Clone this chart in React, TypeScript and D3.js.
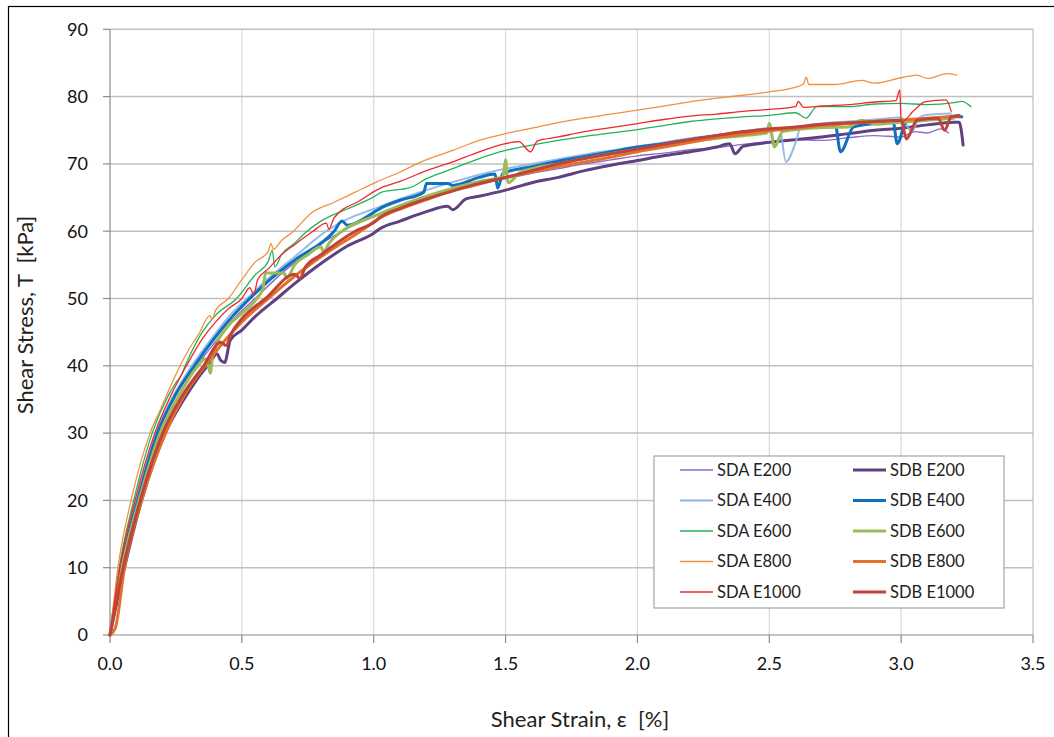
import React from "react";
import * as d3 from "d3";

type P = [number, number];

const xTicks = [0, 0.5, 1.0, 1.5, 2.0, 2.5, 3.0, 3.5];
const yTicks = [0, 10, 20, 30, 40, 50, 60, 70, 80, 90];

const sdaE200: P[] = [[0,0],[0.045,10],[0.11,20],[0.19,30],[0.26,35.5],[0.33,40],[0.4,43.6],[0.47,47],[0.55,50],[0.65,53.7],[0.75,56.8],[0.88,60],[1.0,62.2],[1.1,63.7],[1.2,65],[1.3,66.1],[1.4,67],[1.5,67.8],[1.6,68.6],[1.7,69.3],[1.8,70],[1.9,70.6],[2.0,71.2],[2.1,71.6],[2.2,72.1],[2.3,72.4],[2.4,72.9],[2.5,73.3],[2.6,73.6],[2.7,73.5],[2.8,73.9],[2.9,74.2],[3.0,74],[3.05,74.8],[3.1,74.6],[3.15,75.2],[3.18,74.6]];
const sdbE200: P[] = [[0,0],[0.055,10],[0.12,20],[0.21,30],[0.28,35],[0.33,38],[0.38,40.5],[0.405,41.8],[0.42,40.8],[0.435,40.5],[0.456,43.8],[0.5,45.3],[0.55,47.3],[0.633,50],[0.7,52.2],[0.8,55.2],[0.9,57.8],[1.0,59.7],[1.025,60.4],[1.1,61.5],[1.2,62.9],[1.28,63.7],[1.3,63.2],[1.35,64.8],[1.4,65.2],[1.5,66.1],[1.6,67.2],[1.7,68],[1.8,69],[1.9,69.8],[2.0,70.5],[2.1,71.2],[2.2,71.8],[2.3,72.5],[2.35,73],[2.37,71.5],[2.4,72.6],[2.5,73.2],[2.6,73.6],[2.7,74],[2.8,74.5],[2.9,75],[3.0,75.3],[3.1,75.8],[3.2,76.2],[3.22,76.2],[3.235,72.8]];
const sdaE400: P[] = [[0,0],[0.04,10],[0.1,20],[0.175,30],[0.24,35.5],[0.31,40],[0.4,44.8],[0.45,47.3],[0.52,50],[0.6,53],[0.7,56.2],[0.82,60],[0.9,61.8],[1.0,63.3],[1.1,64.8],[1.2,66.1],[1.3,67.3],[1.4,68.4],[1.5,69.3],[1.6,70],[1.7,70.7],[1.8,71.4],[1.9,72],[2.0,72.6],[2.1,73.2],[2.2,73.8],[2.3,74.3],[2.4,74.8],[2.5,75.3],[2.54,75.2],[2.563,70.3],[2.6,73.2],[2.62,75.5],[2.7,76],[2.8,76.3],[2.9,76.6],[3.0,76.9],[3.04,74.8],[3.07,76.9],[3.1,77.3],[3.19,77.5]];
const sdbE400: P[] = [[0,0],[0.042,10],[0.105,20],[0.18,30],[0.25,35.8],[0.32,40],[0.4,44.3],[0.45,46.7],[0.53,50],[0.6,52.6],[0.7,55.7],[0.85,60],[0.88,61.5],[0.9,60.9],[1.0,62.8],[1.025,63.4],[1.1,64.6],[1.19,65.8],[1.2,67.1],[1.28,67.1],[1.3,66.8],[1.4,68],[1.46,68.5],[1.47,66.4],[1.49,68.6],[1.6,69.6],[1.7,70.4],[1.8,71.1],[1.9,71.8],[2.0,72.5],[2.1,73],[2.2,73.6],[2.3,74.2],[2.4,74.6],[2.5,75],[2.6,75.4],[2.7,75.6],[2.75,75.8],[2.77,71.8],[2.82,75.5],[2.9,76],[2.97,76.2],[2.985,73],[3.02,76.3],[3.1,76.6],[3.2,77],[3.23,77]];
const sdaE600: P[] = [[0,0],[0.035,10],[0.09,20],[0.16,30],[0.22,35.5],[0.25,37.5],[0.27,38.6],[0.285,40],[0.35,45],[0.4,47.5],[0.48,50],[0.55,53.5],[0.6,55.5],[0.615,57.2],[0.625,54.7],[0.65,56.5],[0.7,58.2],[0.747,60],[0.8,61.5],[0.9,63.3],[1.0,65.1],[1.03,65.8],[1.14,66.5],[1.2,67.8],[1.3,69.3],[1.4,70.8],[1.5,72],[1.6,72.8],[1.7,73.5],[1.8,74.1],[1.9,74.6],[2.0,75.1],[2.1,75.7],[2.2,76.3],[2.3,76.7],[2.4,77],[2.5,77.2],[2.6,77.6],[2.64,76.8],[2.68,78.5],[2.8,78.5],[2.9,78.9],[3.0,79],[3.1,78.8],[3.2,79.1],[3.23,79.3],[3.265,78.5]];
const sdbE600: P[] = [[0,0],[0.045,10],[0.11,20],[0.19,30],[0.26,35.5],[0.33,39.8],[0.36,41],[0.37,40.5],[0.38,38.9],[0.39,41.6],[0.45,46],[0.5,47.8],[0.557,50],[0.58,51.5],[0.59,53.8],[0.66,53.8],[0.67,53],[0.7,55],[0.75,56.5],[0.8,57.7],[0.81,56.9],[0.83,58.2],[0.88,60],[1.0,62.2],[1.1,63.8],[1.2,65.2],[1.3,66.4],[1.4,67.4],[1.49,68.1],[1.5,70.6],[1.51,67.2],[1.55,68.6],[1.6,69.3],[1.7,70],[1.8,70.8],[1.9,71.5],[2.0,72.1],[2.1,72.7],[2.2,73.3],[2.3,73.8],[2.4,74.2],[2.49,74.6],[2.5,76],[2.52,72.5],[2.55,74.8],[2.7,75.4],[2.8,75.5],[2.85,76.5],[2.9,75.9],[3.0,76.2],[3.1,76.5],[3.2,76.8]];
const sdaE800: P[] = [[0,0],[0.03,10],[0.08,20],[0.152,30],[0.19,33.4],[0.23,37],[0.266,40],[0.3,42.5],[0.335,44.6],[0.38,47.5],[0.385,46.8],[0.4,48.2],[0.449,50],[0.5,52.8],[0.55,55.4],[0.6,57],[0.61,58.2],[0.62,57.3],[0.65,58.6],[0.696,60],[0.76,62.6],[0.85,64.3],[0.93,65.8],[1.01,67.3],[1.1,68.8],[1.18,70.3],[1.3,72],[1.4,73.5],[1.5,74.5],[1.6,75.3],[1.75,76.5],[1.9,77.4],[2.0,78],[2.1,78.6],[2.25,79.5],[2.4,80.2],[2.5,80.7],[2.6,81.4],[2.63,81.9],[2.64,82.9],[2.65,81.8],[2.75,81.8],[2.85,82.4],[2.9,82],[3.0,82.8],[3.06,83.2],[3.1,82.7],[3.176,83.4],[3.21,83.2]];
const sdbE800: P[] = [[0,0],[0.02,1],[0.055,10],[0.12,20],[0.21,30],[0.28,35.5],[0.36,40],[0.43,43.5],[0.5,46.5],[0.6,50],[0.7,53.3],[0.8,56.2],[0.95,60],[1.025,62],[1.1,63.3],[1.2,64.7],[1.3,66],[1.4,67],[1.5,68],[1.6,68.8],[1.7,69.6],[1.8,70.3],[1.9,71],[2.0,71.8],[2.1,72.5],[2.2,73.2],[2.3,73.9],[2.4,74.4],[2.5,74.9],[2.6,75.3],[2.7,75.7],[2.8,76],[2.9,76.3],[3.0,76.5],[3.1,76.8],[3.22,77.1]];
const sdaE1000: P[] = [[0,0],[0.037,10],[0.095,20],[0.17,30],[0.23,35.5],[0.29,40],[0.35,44],[0.4,46.5],[0.45,48.5],[0.5,50],[0.53,51.6],[0.545,50.6],[0.56,52.8],[0.6,54.4],[0.65,56.5],[0.7,58],[0.77,60],[0.82,61.2],[0.83,60.3],[0.85,62],[0.95,64.6],[1.025,66.4],[1.1,67.4],[1.2,69],[1.3,70.3],[1.4,71.8],[1.5,73],[1.55,73.3],[1.595,71.8],[1.62,73.4],[1.7,74],[1.8,74.8],[1.9,75.4],[2.0,76],[2.1,76.6],[2.2,77.1],[2.3,77.4],[2.4,77.8],[2.5,78.1],[2.6,78.5],[2.61,79.3],[2.63,78.4],[2.7,78.6],[2.8,78.8],[2.9,79.2],[2.98,79.4],[2.995,81],[3.0,76.2],[3.05,78],[3.09,79.2],[3.17,79.5],[3.19,77.8]];
const sdbE1000: P[] = [[0,0],[0.05,10],[0.115,20],[0.2,30],[0.27,35.3],[0.355,40],[0.42,43.5],[0.44,43],[0.46,44.8],[0.5,47],[0.59,50],[0.7,53.6],[0.72,53],[0.74,54.6],[0.8,56.5],[0.93,60],[1.0,61.3],[1.025,62.1],[1.1,63.4],[1.2,64.8],[1.3,66],[1.4,67.1],[1.5,68],[1.6,69],[1.7,70],[1.8,70.8],[1.9,71.5],[2.0,72.2],[2.1,72.9],[2.2,73.6],[2.3,74.2],[2.4,74.8],[2.5,75.2],[2.6,75.5],[2.7,75.9],[2.8,76.1],[2.9,76.3],[3.0,76.5],[3.02,73.7],[3.06,76.5],[3.14,76.8],[3.165,75],[3.19,77],[3.22,77.2]];

const seriesNames = ["SDA E200","SDB E200","SDA E400","SDB E400","SDA E600","SDB E600","SDA E800","SDB E800","SDA E1000","SDB E1000"];
const seriesData = [sdaE200, sdbE200, sdaE400, sdbE400, sdaE600, sdbE600, sdaE800, sdbE800, sdaE1000, sdbE1000];
const seriesColors = ["#8e6cc4","#5f4182","#8db4e2","#0f6fc0","#22b35a","#9bbb59","#f0913f","#e4702a","#f0282c","#c0433a"];
const seriesWidths = [1.4,3,2,3,1.3,3,1.3,3,1.3,3];

const FONT = "Lato, 'Open Sans', sans-serif";

export default function App() {
  const left = 110, right = 1033, top = 29.3, bottom = 635;
  const x = d3.scaleLinear().domain([0, 3.5]).range([left, right]);
  const y = d3.scaleLinear().domain([0, 90]).range([bottom, top]);
  const line = d3.line<P>().x(d => x(d[0])).y(d => y(d[1])).curve(d3.curveMonotoneX);

  const legX = 654, legY = 456, legW = 350, legH = 152;
  return (
    <svg width={1054} height={737} style={{ position: "absolute", left: 0, top: 0, background: "#fff" }}>
      <rect x={8.5} y={6.5} width={1100} height={800} fill="#fff" stroke="#000" strokeWidth={1.2} />
      {xTicks.slice(1, -1).map(t => (
        <line key={"gx" + t} x1={x(t)} x2={x(t)} y1={top} y2={bottom} stroke="#d9d9d9" strokeWidth={1.2} />
      ))}
      {yTicks.slice(1).map(t => (
        <line key={"gy" + t} x1={left} x2={right} y1={y(t)} y2={y(t)} stroke="#bfbfbf" strokeWidth={1.5} />
      ))}
      <line x1={right} x2={right} y1={top} y2={bottom} stroke="#bfbfbf" strokeWidth={1.2} />
      <line x1={left} x2={left} y1={top} y2={bottom} stroke="#8c8c8c" strokeWidth={1.2} />
      <line x1={left} x2={right} y1={bottom} y2={bottom} stroke="#8c8c8c" strokeWidth={1.2} />
      {yTicks.map(t => (
        <g key={"ty" + t}>
          <line x1={left - 7} x2={left} y1={y(t)} y2={y(t)} stroke="#8c8c8c" strokeWidth={1.2} />
          <text x={88} y={y(t)} dy="0.35em" textAnchor="end" fontFamily={FONT} fontSize={18} fill="#111">{t}</text>
        </g>
      ))}
      {xTicks.map(t => (
        <g key={"tx" + t}>
          <line x1={x(t)} x2={x(t)} y1={bottom} y2={bottom + 8} stroke="#8c8c8c" strokeWidth={1.2} />
          <text x={x(t)} y={670} textAnchor="middle" fontFamily={FONT} fontSize={18} fill="#111">{t.toFixed(1)}</text>
        </g>
      ))}
      {seriesData.map((d, i) => (
        <path key={seriesNames[i]} d={line(d) || ""} fill="none" stroke={seriesColors[i]} strokeWidth={seriesWidths[i]} strokeLinejoin="round" strokeLinecap="round" opacity={i === 2 ? 0.9 : 1} />
      ))}
      <rect x={legX} y={legY} width={legW} height={legH} fill="#fff" stroke="#a6a6a6" strokeWidth={1.2} />
      {seriesNames.map((n, i) => {
        const col = i % 2, row = Math.floor(i / 2);
        const lx = col === 0 ? 680 : 853;
        const ly = 470 + row * 30.5;
        return (
          <g key={"lg" + n}>
            <line x1={lx} x2={lx + 33} y1={ly} y2={ly} stroke={seriesColors[i]} strokeWidth={seriesWidths[i]} />
            <text x={lx + 37} y={ly} dy="0.36em" fontFamily={FONT} fontSize={16.5} fill="#222">{n}</text>
          </g>
        );
      })}
      <text transform={`translate(33,315) rotate(-90)`} textAnchor="middle" fontFamily={FONT} fontSize={22} fill="#222" style={{ whiteSpace: "pre" }}>{"Shear Stress, T  [kPa]"}</text>
      <text x={580} y={727} textAnchor="middle" fontFamily={FONT} fontSize={22} fill="#222" style={{ whiteSpace: "pre" }}>{"Shear Strain, ε  [%]"}</text>
    </svg>
  );
}
